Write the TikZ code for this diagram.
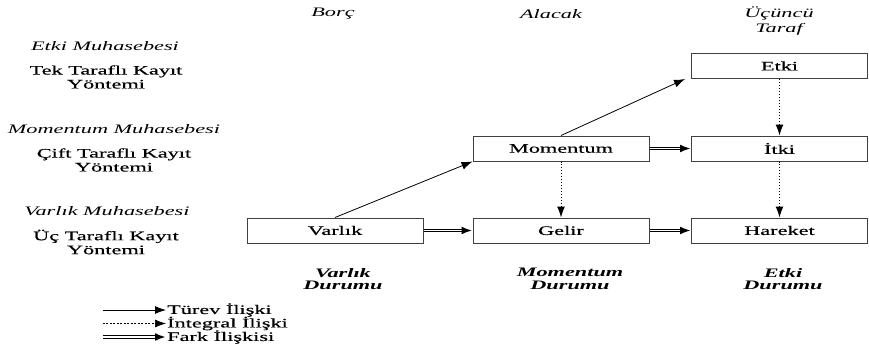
\documentclass[tikz,border=0pt]{standalone}
\usepackage{fontspec}
\setmainfont{Liberation Serif}[FakeStretch=1.72, UprightFeatures={FakeBold=0.35}]
\usetikzlibrary{arrows.meta,decorations.markings}

\tikzset{
  muhasebe/.style={
    every node/.style={font=\fontsize{13}{14}\selectfont, inner sep=1pt, align=center},
    kutu/.style={draw=black!75, line width=1pt, minimum width=176bp, minimum height=25bp},
    baslik/.style={font=\fontsize{13}{15}\selectfont\itshape},
    yontem/.style={font=\fontsize{13}{14}\selectfont},
    durum/.style={font=\fontsize{13}{12.5}\selectfont\bfseries\itshape},
    turev/.style={-{Latex[length=11pt,width=8pt]}, line width=0.8pt},
    integral/.style={-{Latex[length=11pt,width=8pt]}, line width=1pt, dotted},
    fark/.style={double=white, double distance=1.6pt, line width=0.8pt, shorten >=9bp,
      postaction={decorate, decoration={markings,
        mark=at position 1 with {\arrow{Latex[length=11pt,width=8pt]}}}}}
  }
}

\begin{document}
\begin{tikzpicture}[muhasebe, x=1bp, y=-1bp]
    \useasboundingbox (0,0) rectangle (869,350);
    % column headers
    \node[baslik] (borc) at (333,14) {Borç};
    \node[baslik] (alacak) at (551,14) {Alacak};
    \node[baslik] (ucuncu) at (779,21) {Üçüncü\\Taraf};
    % row labels
    \node[baslik] (etkimuh) at (105,46) {Etki Muhasebesi};
    \node[yontem] (tek) at (106,77) {Tek Taraflı Kayıt\\Yöntemi};
    \node[baslik] (momuh) at (114,129) {Momentum Muhasebesi};
    \node[yontem] (cift) at (114,160) {Çift Taraflı Kayıt\\Yöntemi};
    \node[baslik] (varmuh) at (107,211) {Varlık Muhasebesi};
    \node[yontem] (uc) at (106,242) {Üç Taraflı Kayıt\\Yöntemi};
    % boxes
    \node[kutu] (etki) at (779.5,66) {Etki};
    \node[kutu] (momentum) at (561,148.5) {Momentum};
    \node[kutu] (itki) at (779.5,148.5) {İtki};
    \node[kutu] (varlik) at (335,230.5) {Varlık};
    \node[kutu] (gelir) at (561,230.5) {Gelir};
    \node[kutu] (hareket) at (779.5,230.5) {Hareket};
    % states
    \node[durum] (vdurum) at (343,279) {Varlık\\Durumu};
    \node[durum] (mdurum) at (570,279) {Momentum\\Durumu};
    \node[durum] (edurum) at (783,279) {Etki\\Durumu};
    % connectors
    \draw[turev] (varlik.north) -- (momentum.south west);
    \draw[turev] (momentum.north) -- ([xshift=-6bp]etki.south west);
    \draw[integral] (momentum.south) -- (gelir.north);
    \draw[integral] (etki.south) -- (itki.north);
    \draw[integral] (itki.south) -- (hareket.north);
    \draw[fark] (varlik.east) -- (gelir.west);
    \draw[fark] (gelir.east) -- (hareket.west);
    \draw[fark] (momentum.east) -- (itki.west);
    % legend
    \coordinate (l1) at (103,310);
    \coordinate (l2) at (103,323.5);
    \coordinate (l3) at (103,337);
    \node[yontem, anchor=west] (ltur) at (166,310) {Türev İlişki};
    \node[yontem, anchor=west] (lint) at (166,323.5) {İntegral İlişki};
    \node[yontem, anchor=west] (lfark) at (166,337) {Fark İlişkisi};
    \draw[turev] (l1) -- (ltur.west);
    \draw[integral, dash pattern=on 2pt off 1.5pt, line width=0.7pt] (l2) -- (lint.west);
    \draw[fark] (l3) -- (lfark.west);
\end{tikzpicture}
\end{document}
